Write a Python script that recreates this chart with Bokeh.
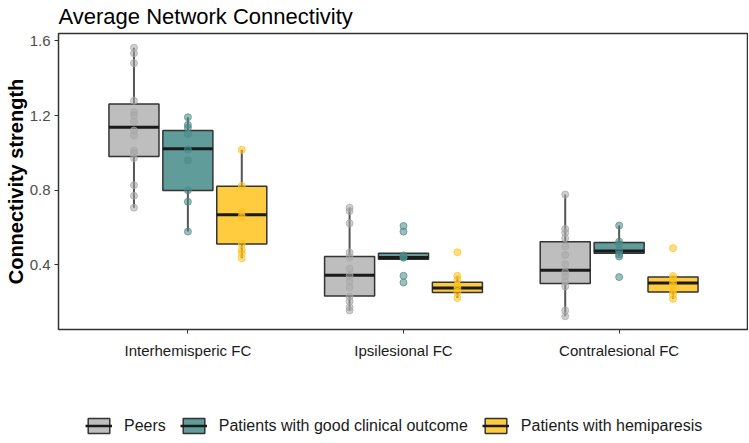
from bokeh.plotting import figure
from bokeh.layouts import column
from bokeh.models import ColumnDataSource, Range1d, FixedTicker, Legend, LegendItem
from bokeh.embed import file_html
from bokeh.resources import INLINE

# ---------------- data ----------------
categories = ["Interhemisperic FC", "Ipsilesional FC", "Contralesional FC"]
groups = ["Peers", "Patients with good clinical outcome", "Patients with hemiparesis"]

y_ticks = [0.4, 0.8, 1.2, 1.6]
y_tick_labels = ["0.4", "0.8", "1.2", "1.6"]

# box statistics (per category)
peers_q1 = [0.981, 0.233, 0.299]
peers_med = [1.138, 0.344, 0.370]
peers_q3 = [1.262, 0.444, 0.524]
peers_lo = [0.706, 0.155, 0.124]
peers_hi = [1.564, 0.706, 0.777]

good_q1 = [0.798, 0.430, 0.462]
good_med = [1.022, 0.439, 0.474]
good_q3 = [1.120, 0.462, 0.519]
good_lo = [0.578, 0.430, 0.444]
good_hi = [1.191, 0.462, 0.610]

hemi_q1 = [0.512, 0.252, 0.254]
hemi_med = [0.668, 0.276, 0.302]
hemi_q3 = [0.821, 0.306, 0.334]
hemi_lo = [0.435, 0.222, 0.217]
hemi_hi = [1.017, 0.341, 0.340]

# individual observations (per category)
peers_points = [
    [1.564, 1.534, 1.481, 1.280, 1.218, 1.200, 1.168, 1.120, 1.093, 1.013, 1.000, 0.972, 0.827, 0.770, 0.706],
    [0.706, 0.688, 0.622, 0.466, 0.440, 0.379, 0.341, 0.311, 0.279, 0.230, 0.204, 0.172, 0.155],
    [0.777, 0.592, 0.572, 0.542, 0.498, 0.453, 0.403, 0.360, 0.338, 0.310, 0.284, 0.155, 0.124],
]
good_points = [
    [1.191, 1.150, 1.135, 1.102, 1.018, 0.960, 0.800, 0.738, 0.578],
    [0.608, 0.578, 0.450, 0.442, 0.438, 0.341, 0.305],
    [0.610, 0.524, 0.510, 0.476, 0.455, 0.444, 0.334],
]
hemi_points = [
    [1.017, 0.823, 0.684, 0.658, 0.512, 0.480, 0.462, 0.435],
    [0.467, 0.341, 0.320, 0.290, 0.275, 0.252, 0.222],
    [0.489, 0.340, 0.325, 0.302, 0.285, 0.258, 0.240, 0.217],
]

box_fill = ["#BEBEBE", "#5F9C9A", "#FFCC40"]
point_color = ["#A8A8A8", "#4A8A88", "#FFC21A"]
dodge = [-0.25, 0.0, 0.25]
box_w = 0.232

stats = [
    (peers_q1, peers_med, peers_q3, peers_lo, peers_hi, peers_points),
    (good_q1, good_med, good_q3, good_lo, good_hi, good_points),
    (hemi_q1, hemi_med, hemi_q3, hemi_lo, hemi_hi, hemi_points),
]

# ---------------- main figure ----------------
p = figure(width=748, height=382, output_backend="svg", toolbar_location=None,
           x_range=Range1d(0.4, 3.6), y_range=Range1d(0.053, 1.64),
           min_border_left=58, min_border_right=0, min_border_top=32, min_border_bottom=53,
           title="Average Network Connectivity")
p.title.text_font = "Liberation Sans"
p.title.text_font_size = "22px"
p.title.text_font_style = "normal"
p.title.text_color = "black"
p.title.align = "left"
p.title.vertical_align = "top"
p.title.standoff = 6
p.title.offset = 0

p.xgrid.visible = False
p.ygrid.visible = False
p.background_fill_color = "white"
p.border_fill_color = "white"
p.outline_line_color = "#333333"
p.outline_line_width = 1.5

for gi, (q1, med, q3, lo, hi, pts) in enumerate(stats):
    xc = [i + 1 + dodge[gi] for i in range(len(categories))]
    src = ColumnDataSource(dict(
        x=xc, left=[x - box_w / 2 for x in xc], right=[x + box_w / 2 for x in xc],
        q1=q1, med=med, q3=q3, lo=lo, hi=hi))
    p.segment(x0="x", y0="q3", x1="x", y1="hi", source=src, line_color="#555555", line_width=2)
    p.segment(x0="x", y0="lo", x1="x", y1="q1", source=src, line_color="#555555", line_width=2)
    p.quad(left="left", right="right", bottom="q1", top="q3", source=src,
           fill_color=box_fill[gi], line_color="#333333", line_width=1.5)
    p.segment(x0="left", y0="med", x1="right", y1="med", source=src,
              line_color="#1A1A1A", line_width=3)
    px, py = [], []
    for i, vals in enumerate(pts):
        px += [xc[i]] * len(vals)
        py += vals
    p.scatter(px, py, size=7, fill_color=point_color[gi], fill_alpha=0.55,
              line_color=point_color[gi], line_alpha=0.7)

# axes
p.xaxis.ticker = FixedTicker(ticks=[1, 2, 3])
p.xaxis.major_label_overrides = {1: categories[0], 2: categories[1], 3: categories[2]}
p.xaxis.minor_tick_line_color = None
p.xaxis.major_tick_in = 0
p.xaxis.major_tick_out = 4
p.xaxis.major_tick_line_color = "#333333"
p.xaxis.axis_line_color = None
p.xaxis.major_label_text_font = "Liberation Sans"
p.xaxis.major_label_text_font_size = "15px"
p.xaxis.major_label_text_color = "#1A1A1A"
p.xaxis.major_label_standoff = 8

p.yaxis.ticker = FixedTicker(ticks=y_ticks)
p.yaxis.major_label_overrides = {t: l for t, l in zip(y_ticks, y_tick_labels)}
p.yaxis.minor_tick_line_color = None
p.yaxis.major_tick_in = 0
p.yaxis.major_tick_out = 4
p.yaxis.major_tick_line_color = "#333333"
p.yaxis.axis_line_color = None
p.yaxis.major_label_text_font = "Liberation Sans"
p.yaxis.major_label_text_font_size = "15px"
p.yaxis.major_label_text_color = "#4D4D4D"
p.yaxis.major_label_standoff = 4
p.yaxis.axis_label = "Connectivity strength"
p.yaxis.axis_label_text_font = "Liberation Sans"
p.yaxis.axis_label_text_font_style = "bold"
p.yaxis.axis_label_text_font_size = "20px"
p.yaxis.axis_label_text_color = "black"
p.yaxis.axis_label_standoff = 0

# ---------------- legend strip ----------------
pl = figure(width=748, height=60, output_backend="svg", toolbar_location=None,
            x_range=Range1d(0, 1), y_range=Range1d(0, 1), min_border=0,
            x_axis_location=None, y_axis_location=None)
pl.grid.visible = False
pl.outline_line_color = None
pl.background_fill_color = "white"
pl.border_fill_color = "white"

legend_items = []
for gi in range(len(groups)):
    # one off-screen row so the legend has visuals to draw from
    off = ColumnDataSource(dict(l=[2.0], r=[3.0], b=[2.0], t=[3.0]))
    qr = pl.quad(left="l", right="r", bottom="b", top="t", source=off,
                 fill_color=box_fill[gi], line_color="#333333", line_width=1.5)
    mr = pl.segment(x0="l", y0="b", x1="r", y1="t", source=off,
                    line_color="#1A1A1A", line_width=2.5)
    legend_items.append(LegendItem(label=groups[gi], renderers=[qr, mr]))

leg = Legend(items=legend_items, orientation="horizontal", location=(27, 7),
             glyph_width=27, glyph_height=19, label_standoff=12, spacing=14,
             padding=0, margin=0, border_line_color=None, background_fill_alpha=0,
             label_text_font="Liberation Sans", label_text_font_size="16px",
             label_text_color="#1A1A1A")
pl.add_layout(leg)

layout = column(p, pl, spacing=0)
open("out.html", "w").write(file_html(layout, INLINE))
